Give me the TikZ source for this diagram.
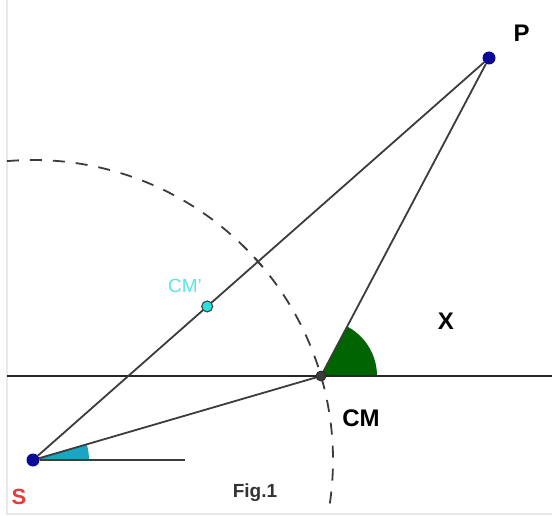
\documentclass[tikz,border=0pt]{standalone}
\usepackage{fontspec}
\setmainfont{Liberation Sans}
\usetikzlibrary{calc}
\definecolor{dotblue}{RGB}{10,10,150}
\definecolor{linegray}{RGB}{60,60,60}
\definecolor{angcyan}{RGB}{25,165,195}
\definecolor{anggreen}{RGB}{0,100,0}
\definecolor{cmcyan}{RGB}{40,225,225}
\definecolor{cmlab}{RGB}{90,230,230}
\definecolor{sred}{RGB}{230,60,60}
\begin{document}
\begin{tikzpicture}[x=1pt,y=-1pt,
  seg/.style={draw=linegray,line width=1.8pt},
  bluedot/.style={circle,fill=dotblue,inner sep=0pt,minimum size=13pt},
  cmdot/.style={circle,fill=linegray,draw=black!85,line width=0.8pt,inner sep=0pt,minimum size=10pt},
  cmpdot/.style={circle,fill=cmcyan,draw=black!75,line width=1.1pt,inner sep=0pt,minimum size=11pt},
  lab/.style={font=\fontsize{24}{28}\selectfont\bfseries,inner sep=0pt}]
\useasboundingbox (0,0) rectangle (552,516);
\fill[white] (0,0) rectangle (552,516);
\draw[gray!18,line width=1.5pt] (7,0) -- (7,514) -- (552,514);
% points
\coordinate (Sc) at (33,460);
\coordinate (Pc) at (489,58);
\coordinate (CMc) at (321,376);
% angle wedges
\fill[anggreen] (CMc) -- ++(56,0) arc[start angle=0,end angle=-62.2,radius=56] -- cycle;
\fill[angcyan] (Sc) -- ++(56,0) arc[start angle=0,end angle=-16.3,radius=56] -- cycle;
% dashed circle arc centred at S
\draw[linegray,line width=1.8pt,dash pattern=on 12pt off 11pt] (Sc) ++(-95:300) arc[start angle=-95,end angle=9,radius=300];
% horizontal line
\coordinate (HL) at (7,376);
\coordinate (HR) at (552,376);
\draw[black!85,line width=2.4pt] (HL) -- (HR);
\coordinate (Send) at (185,460);
% nodes
\node[bluedot] (P) at (Pc) {};
\node[bluedot] (S) at (Sc) {};
\draw[seg] (S) -- (P);
\draw[seg] (S) -- (Send);
\draw[seg] (S) -- (CMc);
\draw[seg] (CMc) -- (P);
\node[cmdot] (CM) at (CMc) {};
% tick where SP meets the circle
\coordinate (T) at ($(Sc)!300pt!(Pc)$);
\draw[seg] ($(T)!6pt!90:(Pc)$) -- ($(T)!6pt!-90:(Pc)$);
\node[cmpdot] (CMp) at ($(Sc)!0.382!(Pc)$) {};
% labels
\node[lab] (Plab) at (521.5,33) {P};
\node[lab] (Xlab) at (446,321) {X};
\node[lab] (CMlab) at (361,418) {CM};
\node[lab,font=\fontsize{22}{26}\selectfont\bfseries,text=sred] (Slab) at (19,497) {S};
\node[font=\fontsize{19}{22}\selectfont\bfseries,text=black!80,inner sep=0pt] (fig) at (255,493) {Fig.1};
\node[font=\fontsize{19}{22}\selectfont,text=cmlab,inner sep=0pt] (CMplab) at (185,285.5) {CM'};
\end{tikzpicture}
\end{document}
